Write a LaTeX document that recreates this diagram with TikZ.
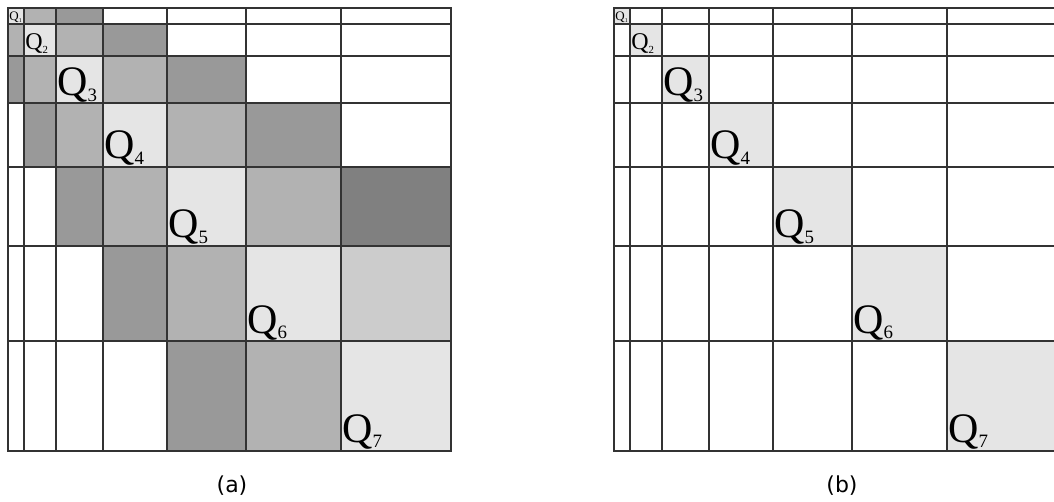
\documentclass[tikz,border=0pt]{standalone}
\usepackage{fontspec}
\setmainfont{Liberation Serif}
\newfontfamily\capfont{DejaVu Sans}
\usepackage{xcolor}
\usepackage{tikz}
\definecolor{diagfill}{gray}{0.90}
\definecolor{softfill}{gray}{0.80}
\definecolor{nearfill}{gray}{0.70}
\definecolor{farfill}{gray}{0.60}
\definecolor{darkfill}{gray}{0.50}

% Cortes de la particion (px)
\def\cuts{{0,16,48,95,159,238,333,443}}

% Celda: columna, fila, color
\newcommand{\qcell}[3]{%
  \pgfmathsetmacro{\xlo}{\cuts[#1-1]}%
  \pgfmathsetmacro{\xhi}{\cuts[#1]}%
  \pgfmathsetmacro{\ylo}{\cuts[#2-1]}%
  \pgfmathsetmacro{\yhi}{\cuts[#2]}%
  \fill[#3] (\xlo,\ylo) rectangle (\xhi,\yhi);}

% Etiqueta Q con subindice
\newcommand{\qlab}[2]{\fontsize{#1}{#1}\selectfont Q\raisebox{-0.13em}{\scalebox{0.45}{#2}}}

\begin{document}
\begin{tikzpicture}[x=0.5pt, y=-0.5pt,
  gridline/.style={draw=black!80, line width=1pt, line cap=rect},
  qtag/.style={anchor=base west, inner sep=0pt},
  captag/.style={font=\capfont\fontsize{11}{13}\selectfont}]
  \useasboundingbox (0,0) rectangle (1054,502);

  % (a) bloques de la matriz
  \begin{scope}[shift={(8,8)}]
    \foreach \c/\r/\f in {1/1/diagfill, 2/1/nearfill, 3/1/farfill,
        1/2/nearfill, 2/2/diagfill, 3/2/nearfill, 4/2/farfill,
        1/3/farfill, 2/3/nearfill, 3/3/diagfill, 4/3/nearfill, 5/3/farfill,
        2/4/farfill, 3/4/nearfill, 4/4/diagfill, 5/4/nearfill, 6/4/farfill,
        3/5/farfill, 4/5/nearfill, 5/5/diagfill, 6/5/nearfill, 7/5/darkfill,
        4/6/farfill, 5/6/nearfill, 6/6/diagfill, 7/6/softfill,
        5/7/farfill, 6/7/nearfill, 7/7/diagfill}{
      \qcell{\c}{\r}{\f}
    }
    % Rejilla
    \foreach \v in {0,16,48,95,159,238,333,443}{
      \draw[gridline] (\v,0) -- (\v,443);
      \draw[gridline] (0,\v) -- (443,\v);
    }
    % Etiquetas diagonales
    \foreach \i/\s/\d in {1/6.5/3, 2/12/6, 3/21/7, 4/21/8, 5/21/8, 6/21/8, 7/21/9}{
      \pgfmathsetmacro{\xq}{\cuts[\i-1]+1}
      \pgfmathsetmacro{\yq}{\cuts[\i]-\d}
      \node[qtag] (qa\i) at (\xq,\yq) {\qlab{\s}{\i}};
    }
  \end{scope}

  % (b) solo la diagonal
  \begin{scope}[shift={(614,8)}]
    \clip (-5,-5) rectangle (440,450);
    \foreach \c in {1,...,7}{
      \qcell{\c}{\c}{diagfill}
    }
    \foreach \v in {0,16,48,95,159,238,333,443}{
      \draw[gridline] (\v,0) -- (\v,443);
      \draw[gridline] (0,\v) -- (443,\v);
    }
    \foreach \i/\s/\d in {1/6.5/3, 2/12/6, 3/21/7, 4/21/8, 5/21/8, 6/21/8, 7/21/9}{
      \pgfmathsetmacro{\xq}{\cuts[\i-1]+1}
      \pgfmathsetmacro{\yq}{\cuts[\i]-\d}
      \node[qtag] (qb\i) at (\xq,\yq) {\qlab{\s}{\i}};
    }
  \end{scope}

  % Rotulos
  \node[captag] (capa) at (232,486) {(a)};
  \node[captag] (capb) at (842,486) {(b)};
\end{tikzpicture}
\end{document}
